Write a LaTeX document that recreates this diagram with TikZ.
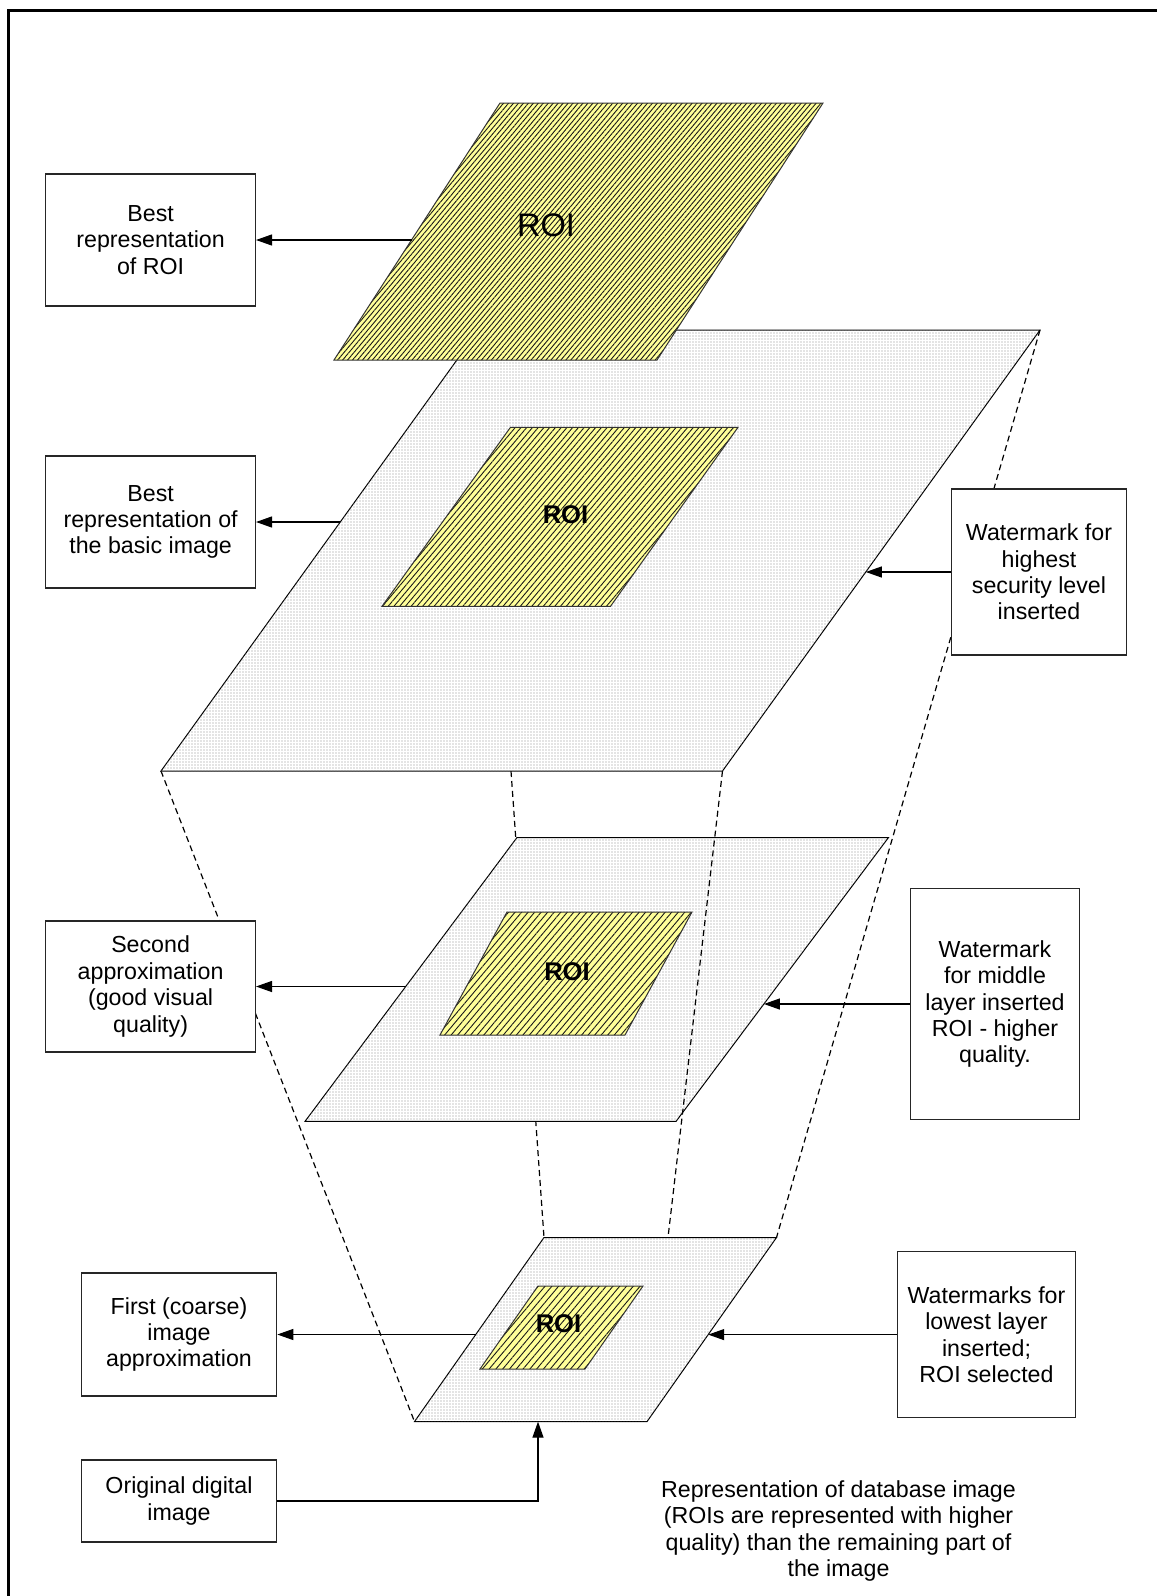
\documentclass[tikz,border=0pt]{standalone}
\usepackage{fontspec}
\setmainfont{Liberation Sans}
\usetikzlibrary{arrows.meta,patterns.meta}
\definecolor{roiyellow}{RGB}{255,255,153}
\begin{document}
\begin{tikzpicture}
  [x=0.5pt,y=-0.5pt,
   box/.style={draw=black!85,line width=0.6pt,fill=white,align=center,inner sep=0pt,
     font=\fontsize{11.6}{13.2}\selectfont},
   plane/.style={draw=black,line width=0.5pt,fill=white,
     postaction={pattern={Dots[distance=1.5pt,radius=0.3pt]},pattern color=black!45}},
   roi/.style={preaction={fill=roiyellow},
     pattern={Lines[angle=50,distance=#1,line width=0.45pt]},pattern color=black!90,
     draw=black!80,line width=0.5pt},
   link/.style={line width=0.6pt,-{Triangle[length=8pt,width=5.5pt]}},
   proj/.style={line width=0.6pt,dash pattern=on 3pt off 2pt},
   roitext/.style={font=\fontsize{12.8}{14}\selectfont\bfseries}]
  \useasboundingbox (0,0) rectangle (1157,1596);
  \draw[line width=1.75pt] (8.5,1596) -- (8.5,10.5) -- (1157,10.5);

  % corners of the three planes
  \coordinate (p1-tl) at (478.5,330);
  \coordinate (p1-tr) at (1040,330);
  \coordinate (p1-br) at (722.5,771);
  \coordinate (p1-bl) at (161,771);
  \coordinate (p1-b) at (511,771);
  \coordinate (p2-tl) at (517,837.5);
  \coordinate (p2-tr) at (888.5,837.5);
  \coordinate (p2-br) at (676,1121.4);
  \coordinate (p2-bl) at (305,1121.4);
  \coordinate (p3-tl) at (544,1237.5);
  \coordinate (p3-tr) at (776.5,1237.5);
  \coordinate (p3-br) at (647,1421.6);
  \coordinate (p3-bl) at (414.5,1421.6);
  \coordinate (p3-t) at (668,1237.5);

  % projection lines
  \draw[proj] (p1-bl) -- (p3-bl);
  \draw[proj] (p1-b) -- (p3-tl);
  \draw[proj] (p1-tr) -- (p3-tr);

  % highest layer
  \draw[plane] (p1-tl) -- (p1-tr) -- (p1-br) -- (p1-bl) -- cycle;
  \draw[roi=2.2pt] (510.5,427.3) -- (738,427.3) -- (610.5,606.3) -- (382,606.3) -- cycle;
  \draw[roi=1.9pt] (500,103) -- (823,103) -- (657,360) -- (334,360) -- cycle;
  \node[font=\fontsize{16.3}{18}\selectfont] (roi0) at (546,225) {ROI};
  \node[roitext] (roi1) at (565.5,514.5) {ROI};

  % middle layer
  \draw[plane] (p2-tl) -- (p2-tr) -- (p2-br) -- (p2-bl) -- cycle;
  \draw[roi=2.5pt] (507,912) -- (692,912) -- (625,1035) -- (440,1035) -- cycle;
  \node[roitext] (roi2) at (567,972) {ROI};
  \draw[proj] (p1-br) -- (p3-t);

  % lowest layer
  \draw[plane] (p3-tl) -- (p3-tr) -- (p3-br) -- (p3-bl) -- cycle;
  \draw[roi=2.6pt] (538,1286) -- (643,1286) -- (585,1369) -- (480,1369) -- cycle;
  \node[roitext] (roi3) at (558.5,1324) {ROI};

  % points where the arrows meet the layers
  \coordinate (a0) at (411.5,240);
  \coordinate (a1) at (340,522);
  \coordinate (a2) at (405.7,986.5);
  \coordinate (a3) at (475.8,1334.5);
  \coordinate (a4) at (538,1421.6);
  \coordinate (a5) at (865.8,572);
  \coordinate (a6) at (763.9,1004);
  \coordinate (a7) at (708.2,1334.6);

  % labels
  \node[box,minimum width=104.8pt,minimum height=66pt] (bestroi) at (150.6,240)
    {Best\\representation\\of ROI};
  \node[box,minimum width=104.8pt,minimum height=66pt] (bestbasic) at (150.6,522)
    {Best\\representation of\\the basic image};
  \node[box,minimum width=104.8pt,minimum height=65.5pt] (second) at (150.6,986.5)
    {Second\\approximation\\(good visual\\quality)};
  \node[box,minimum width=97.7pt,minimum height=61.5pt] (first) at (179,1334.5)
    {First (coarse)\\image\\approximation};
  \node[box,minimum width=97.7pt,minimum height=41pt] (orig) at (179,1501)
    {Original digital\\image};
  \node[box,minimum width=87.2pt,minimum height=83pt] (wmhigh) at (1039,572)
    {Watermark for\\highest\\security level\\inserted};
  \node[box,minimum width=84.6pt,minimum height=115.5pt] (wmmid) at (995,1004)
    {Watermark\\for middle\\layer inserted\\ROI - higher\\quality.};
  \node[box,minimum width=89pt,minimum height=83pt] (wmlow) at (986.5,1334.6)
    {Watermarks for\\lowest layer\\inserted;\\ROI selected};
  \node[align=center,font=\fontsize{11.6}{13.2}\selectfont] (caption) at (838.5,1531)
    {Representation of database image\\(ROIs are represented with higher\\quality) than the remaining part of\\the image};

  % arrows
  \draw[link] (a0) -- (a0 -| bestroi.east);
  \draw[link] (a1) -- (a1 -| bestbasic.east);
  \draw[link] (a2) -- (a2 -| second.east);
  \draw[link] (a3) -- (a3 -| first.east);
  \draw[link] (orig.east) -| (a4);
  \draw[link] (wmhigh.west) -- (a5);
  \draw[link] (wmmid.west) -- (a6);
  \draw[link] (wmlow.west) -- (a7);
\end{tikzpicture}
\end{document}
